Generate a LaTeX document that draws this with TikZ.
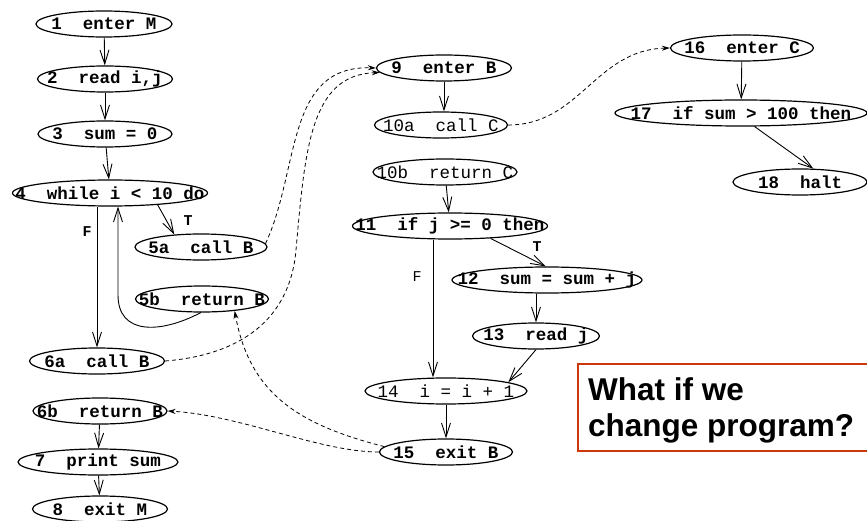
\documentclass[tikz,border=0pt]{standalone}
\usepackage{fontspec}
\usetikzlibrary{shapes.geometric,arrows.meta}
\newfontfamily\cfont{Liberation Mono}
\newfontfamily\bfont{Liberation Sans}
\definecolor{boxred}{RGB}{204,56,10}

\tikzset{
  st/.style={ellipse, draw, line width=1.2pt, minimum width=#1, minimum height=26pt,
    inner sep=0pt, font=\cfont\bfseries\fontsize{17.5}{18}\selectfont},
  stl/.style={st=#1, font=\cfont\fontsize{17.5}{18}\selectfont},
  flow/.style={line width=0.9pt, -{Straight Barb[length=14pt,width=9pt,line width=0.9pt]}},
  call/.style={line width=0.8pt, dash pattern=on 4pt off 3pt,
    -{Stealth[length=8pt,width=5pt]}},
  lbl/.style={font=\cfont\bfseries\fontsize{15}{15}\selectfont, inner sep=0pt},
  qtext/.style={anchor=base west, inner sep=0pt, font=\bfont\bfseries\fontsize{31.5}{36}\selectfont},
}
\newcommand{\lab}[1]{\makebox[0pt]{#1}}

\begin{document}
\begin{tikzpicture}[x=1pt, y=-1pt]
\useasboundingbox (0,0) rectangle (867,521);

% procedure M
\node (n1)  [st=136] at (104,24)  {\lab{1\ \ enter M}};
\node (n2)  [st=135] at (105,79)  {\lab{2\ \ read i,j}};
\node (n3)  [st=134] at (105,134) {\lab{3\ \ sum = 0}};
\node (n4)  [st=195] at (110,193) {\lab{4\ \ while i < 10 do}};
\node (n5a) [st=132] at (201,247) {\lab{5a\ \ call B}};
\node (n5b) [st=133] at (202,299) {\lab{5b\ \ return B}};
\node (n6a) [st=135] at (97,361)  {\lab{6a\ \ call B}};
\node (n6b) [st=134] at (100,411) {\lab{6b\ \ return B}};
\node (n7)  [st=160] at (98,462)  {\lab{7\ \ print sum}};
\node (n8)  [st=135] at (100,509) {\lab{8\ \ exit M}};

% procedure B
\node (n9)   [st=135]  at (444,68)  {\lab{9\ \ enter B}};
\node (n10a) [stl=133] at (441,125) {\lab{10a\ \ call C}};
\node (n10b) [stl=144] at (445,172) {\lab{10b\ \ return C}};
\node (n11)  [st=195]  at (450,226) {\lab{11\ \ if j >= 0 then}};
\node (n12)  [st=190]  at (547,280) {\lab{12\ \ sum = sum + j}};
\node (n13)  [st=127]  at (536,336) {\lab{13\ \ read j}};
\node (n14)  [stl=162] at (446,391) {\lab{14\ \ i = i + 1}};
\node (n15)  [st=133]  at (446,452) {\lab{15\ \ exit B}};

% procedure C
\node (n16) [st=143] at (742,48)  {\lab{16\ \ enter C}};
\node (n17) [st=252] at (741,113) {\lab{17\ \ if sum > 100 then}};
\node (n18) [st=134] at (800,182) {\lab{18\ \ halt}};

% control flow in M
\draw[flow] (n1) -- (n2);
\draw[flow] (n2) -- (n3);
\draw[flow] (n3) -- (n4);
\draw[flow] (n4.-14) -- (n5a.155);
\draw[flow] (n4.south -| n6a.north) -- (n6a.north);
\coordinate (lp) at (118,295);
\draw[flow] (n5b.-95) .. controls (160,334) and (118,335) .. (lp) -- (lp |- n4.south);
\draw[flow] (n6b) -- (n7);
\draw[flow] (n7) -- (n8);
\node (tM) [lbl] at (188,221) {T};
\node (fM) [lbl] at (87,232) {F};

% control flow in B
\draw[flow] (n9.south) -- (n9.south |- n10a.north);
\draw[flow] (n10b) -- (n11);
\draw[flow] (n11.-17) -- (n12.95);
\coordinate (fx) at (433,0);
\draw[flow] (n11.south -| fx) -- (n14.north -| fx);
\draw[flow] (n12.south -| n13.north) -- (n13.north);
\draw[flow] (n13.south) -- (n14.8);
\draw[flow] (n14) -- (n15);
\node (tB) [lbl] at (537,247) {T};
\node (fB) [lbl, font=\cfont\fontsize{15}{15}\selectfont] at (417,277) {F};

% control flow in C
\draw[flow] (n16) -- (n17);
\draw[flow] (n17.-45) -- (n18.45);

% call and return edges
\draw[call] (n5a.3) .. controls (300,170) and (285,65) .. (n9.west);
\draw[call] (n6a.east) .. controls (240,355) and (290,320) .. (296,250)
            .. controls (305,150) and (310,75) .. (n9.-176);
\draw[call] (n15.175) .. controls (300,425) and (250,395) .. (n5b.-20);
\draw[call] (n15.west) .. controls (320,452) and (240,415) .. (n6b.east);
\draw[call] (n10a.east) .. controls (580,125) and (595,50) .. (n16.west);

% question box
\node (qbox) [draw=boxred, line width=2.2pt, anchor=north west, minimum width=320pt,
  minimum height=87pt, inner sep=0pt] at (577,363) {};
\node (q1) [qtext] at (588,400) {What if we};
\node (q2) [qtext] at (588,436) {change program?};
\end{tikzpicture}
\end{document}
